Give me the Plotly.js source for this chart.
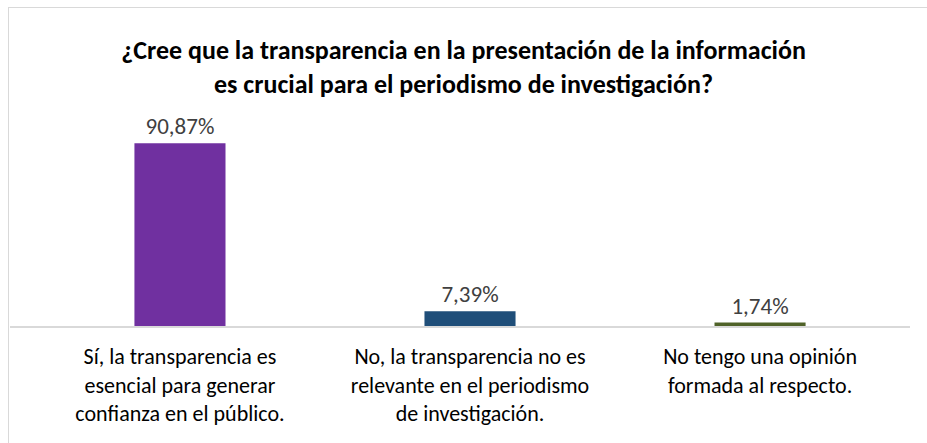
<!DOCTYPE html>
<html><head><meta charset="utf-8">
<script src="https://cdn.plot.ly/plotly-3.0.1.min.js"></script>
<style>
html,body{margin:0;padding:0;background:#fff;width:927px;height:443px;overflow:hidden;}
#frame{position:absolute;left:8px;top:7px;width:940px;height:460px;border:1px solid #d9d9d9;box-sizing:border-box;}
#chart{position:absolute;left:0;top:0;width:927px;height:443px;}
</style></head>
<body>
<div id="frame"></div>
<div id="chart"></div>
<script>
const categories = ["Sí", "No", "Sin opinión"];
const tickLabels = [
  "Sí, la transparencia es<br>esencial para generar<br>confianza en el público.",
  "No, la transparencia no es<br>relevante en el periodismo<br>de investigación.",
  "No tengo una opinión<br>formada al respecto."
];
const values = [90.87, 7.39, 1.74];
const valueLabels = ["90,87%", "7,39%", "1,74%"];
const colors = ["#7030A0", "#1F4E79", "#4F6228"];

const font = "Carlito, 'Liberation Sans Narrow', 'Open Sans', sans-serif";

Plotly.newPlot("chart", [{
  type: "bar",
  x: categories,
  y: values,
  width: 0.314,
  marker: {color: colors},
  text: valueLabels,
  textposition: "outside",
  cliponaxis: false,
  textfont: {family: font, size: 23, color: "#404040"},
  hoverinfo: "skip"
}], {
  width: 927, height: 443,
  paper_bgcolor: "rgba(0,0,0,0)",
  plot_bgcolor: "rgba(0,0,0,0)",
  margin: {l: 10, r: 17, t: 125, b: 117},
  title: {
    text: "<b>¿Cree que la transparencia en la presentación de la información<br>es crucial para el periodismo de investigación?</b>",
    font: {family: font, size: 26, color: "#000"},
    x: 0.5, xanchor: "center", y: 0.866, yanchor: "middle"
  },
  showlegend: false,
  xaxis: {
    type: "category",
    range: [-0.586, 2.517],
    tickvals: categories,
    ticktext: tickLabels,
    tickfont: {family: font, size: 22, color: "#000"},
    ticklabelstandoff: 10,
    showline: true, linecolor: "#d9d9d9", linewidth: 1.5,
    ticks: "", showgrid: false, zeroline: false, fixedrange: true
  },
  yaxis: {
    range: [0, 100],
    visible: false, showgrid: false, zeroline: false, fixedrange: true
  }
}, {displayModeBar: false, staticPlot: true});
</script>
</body></html>
